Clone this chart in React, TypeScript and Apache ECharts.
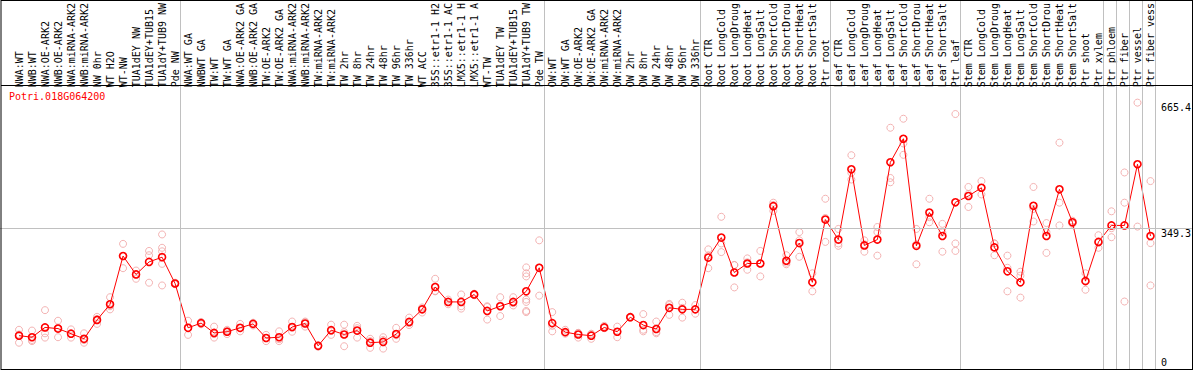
import React, { useEffect, useRef } from 'react';
import * as echarts from 'echarts';

const geneId = 'Potri.018G064200';

const categories = [
  'NWA:WT', 'NWB:WT', 'NWA:OE-ARK2', 'NWB:OE-ARK2', 'NWA:miRNA-ARK2', 'NWB:miRNA-ARK2', 'NW 0hr', 'WT H2O', 'WT-NW',
  'TUA1dEY NW', 'TUA1dEY+TUB15 NW', 'TUA1dY+TUB9 NW', 'Pde NW',
  'NWA:WT GA', 'NWBWT GA', 'TW:WT', 'TW:WT GA', 'NWA:OE-ARK2 GA', 'NWB:OE-ARK2 GA', 'TW:OE-ARK2', 'TW:OE-ARK2 GA',
  'NWA:miRNA-ARK2', 'NWB:miRNA-ARK2', 'TW:miRNA-ARK2', 'TW:miRNA-ARK2 GA', 'TW 2hr', 'TW 8hr', 'TW 24hr', 'TW 48hr',
  'TW 96hr', 'TW 336hr', 'WT ACC', '35S::etr1-1 H2O', '35S::etr1-1 ACC', 'LMX5::etr1-1 H2O', 'LMX5::etr1-1 ACC',
  'WT-TW', 'TUA1dEY TW', 'TUA1dEY+TUB15 TW', 'TUA1dY+TUB9 TW', 'Pde TW',
  'OW:WT', 'OW:WT GA', 'OW:OE-ARK2', 'OW:OE-ARK2 GA', 'OW:miRNA-ARK2', 'OW:miRNA-ARK2 GA', 'OW 2hr', 'OW 8hr',
  'OW 24hr', 'OW 48hr', 'OW 96hr', 'OW 336hr',
  'Root CTR', 'Root LongCold', 'Root LongDrought', 'Root LongHeat', 'Root LongSalt', 'Root ShortCold',
  'Root ShortDrought', 'Root ShortHeat', 'Root ShortSalt', 'Ptr root',
  'Leaf CTR', 'Leaf LongCold', 'Leaf LongDrought', 'Leaf LongHeat', 'Leaf LongSalt', 'Leaf ShortCold',
  'Leaf ShortDrought', 'Leaf ShortHeat', 'Leaf ShortSalt', 'Ptr leaf',
  'Stem CTR', 'Stem LongCold', 'Stem LongDrought', 'Stem LongHeat', 'Stem LongSalt', 'Stem ShortCold',
  'Stem ShortDrought', 'Stem ShortHeat', 'Stem ShortSalt', 'Ptr shoot', 'Ptr xylem',
  'Ptr phloem', 'Ptr fiber', 'Ptr vessel', 'Ptr fiber vessel',
];

const meanValues = [
  81, 77, 102, 99, 86, 73, 121, 161, 284, 237, 269, 281, 214,
  101, 113, 88, 91, 101, 111, 75, 77, 103, 112, 55, 95, 84, 94, 63, 65, 85, 116, 148, 205, 167, 167, 186, 144,
  156, 167, 194, 254,
  113, 90, 84, 81, 102, 91, 128, 108, 98, 152, 148, 148,
  280, 331, 242, 265, 265, 411, 272, 317, 217, 377,
  326, 505, 311, 326, 523, 583, 310, 395, 335, 421,
  437, 458, 306, 245, 217, 412, 335, 454, 370, 220, 320,
  362, 362, 518, 335,
];

const replicateValues = [
  [96, 84, 63], [94, 70, 67], [146, 87, 76], [119, 101, 77], [97, 85, 76], [87, 70, 63], [129, 123, 111],
  [179, 156, 148], [315, 284, 253], [247, 238, 226], [297, 286, 216], [339, 305, 296, 264, 209], [216, 214, 212],
  [119, 100, 83], [116, 113, 110], [104, 85, 76], [96, 93, 85], [111, 100, 92], [114, 111, 107], [83, 75, 67],
  [92, 72, 67], [117, 101, 91], [117, 115, 104], [57, 55, 53], [109, 93, 83], [109, 90, 54], [106, 100, 76],
  [73, 67, 50], [77, 70, 48], [101, 82, 73], [127, 113, 108], [153, 150, 140], [226, 195, 194], [173, 167, 161],
  [186, 156, 150], [188, 186, 184], [156, 154, 122], [179, 158, 131], [179, 164, 158],
  [255, 240, 232, 173, 167, 144, 141], [324, 255, 183],
  [141, 106, 92], [96, 89, 86], [88, 88, 76], [86, 84, 73], [106, 102, 100], [104, 91, 77], [129, 128, 127],
  [136, 96, 92], [117, 90, 87], [162, 159, 134], [165, 152, 127], [159, 148, 137],
  [301, 286, 253], [384, 316, 294], [261, 261, 204], [278, 268, 249], [297, 265, 232], [420, 414, 399],
  [286, 267, 263], [345, 324, 282], [240, 217, 194], [430, 381, 320],
  [353, 316, 310], [541, 496, 479], [324, 314, 295], [358, 345, 285], [611, 483, 472], [634, 571, 542],
  [353, 314, 263], [430, 383, 370], [366, 344, 295], [646, 316, 297],
  [460, 442, 409], [475, 458, 441], [316, 316, 286], [285, 254, 194], [244, 234, 178], [460, 404, 372],
  [368, 345, 292], [573, 420, 362], [374, 370, 366], [240, 222, 198], [337, 318, 305],
  [398, 355, 332], [497, 420, 168], [675, 359], [475, 317, 209],
];

const groupBoundaries = [0, 13, 41, 53, 63, 73, 84, 85, 86, 87, 88];
const referenceLineValue = 349.3;
const yTicksBelowLine = [349.3, 665.4];
const yTicksAboveLine = [0];

const FONT = 'DejaVu Sans Mono';

export default function App() {
  const ref = useRef<HTMLDivElement>(null);

  useEffect(() => {
    if (!ref.current) return;
    const chart = echarts.init(ref.current, null, { renderer: 'svg' });
    // value 0 sits at y = 367.4 px, 0.3983 px per unit
    const yMin = -4.0;
    const yMaxPlot = 706.5; // plot grid (top 86)
    const yMaxFull = 922.4; // full-height grids (top 0)

    const repData: number[][] = [];
    replicateValues.forEach((reps, i) => reps.forEach((v) => repData.push([i, v])));

    const yLabelAxis = (values: number[], vAlign: string) => ({
      type: 'value',
      gridIndex: 1,
      min: yMin,
      max: yMaxFull,
      position: 'right',
      axisLine: { show: false },
      axisTick: { show: false },
      splitLine: { show: false },
      axisLabel: {
        inside: true,
        align: 'left',
        verticalAlign: vAlign,
        margin: 31,
        customValues: values,
        fontFamily: FONT,
        fontSize: 10,
        lineHeight: 10,
        color: '#000',
        formatter: (v: number) => String(v),
      },
    });

    const frameLine = (x1: number, y1: number, x2: number, y2: number) => ({
      type: 'line',
      z: 100,
      silent: true,
      shape: { x1, y1, x2, y2 },
      style: { stroke: '#000', lineWidth: 1 },
    });

    chart.setOption({
      animation: false,
      backgroundColor: '#ffffff',
      title: {
        text: geneId,
        left: 9,
        top: 91,
        padding: 0,
        textStyle: { color: '#ff0000', fontSize: 10, fontFamily: FONT, fontWeight: 'normal' },
      },
      grid: [
        { left: 12.5, width: 1144.5, top: 86, height: 283 },
        { left: 0, width: 1194, top: 0, height: 369 },
        { left: 12.5, width: 1144.5, top: 0, height: 369 },
      ],
      xAxis: [
        {
          type: 'category',
          gridIndex: 0,
          data: categories,
          position: 'top',
          boundaryGap: true,
          axisLine: { show: false },
          axisTick: { show: false },
          splitLine: { show: false },
          axisLabel: {
            interval: 0,
            rotate: 90,
            align: 'left',
            verticalAlign: 'middle',
            margin: 3,
            fontFamily: FONT,
            fontSize: 10,
            color: '#000',
            hideOverlap: false,
            formatter: (s: string) => s.slice(0, 14),
          },
        },
        { type: 'value', gridIndex: 1, min: 0, max: 1, show: false },
        { type: 'value', gridIndex: 2, min: 0.138, max: 88.138, show: false },
      ],
      yAxis: [
        { type: 'value', gridIndex: 0, min: yMin, max: yMaxPlot, show: false },
        yLabelAxis(yTicksBelowLine, 'top'),
        yLabelAxis(yTicksAboveLine, 'bottom'),
        { type: 'value', gridIndex: 2, min: yMin, max: yMaxFull, show: false },
      ],
      series: [
        {
          type: 'line',
          xAxisIndex: 1,
          yAxisIndex: 1,
          data: [],
          silent: true,
          markLine: {
            silent: true,
            symbol: ['none', 'none'],
            label: { show: false },
            lineStyle: { color: '#c0c0c0', width: 1, type: 'solid' },
            data: [{ yAxis: referenceLineValue }],
          },
        },
        {
          type: 'line',
          xAxisIndex: 2,
          yAxisIndex: 3,
          data: [],
          silent: true,
          markLine: {
            silent: true,
            symbol: ['none', 'none'],
            label: { show: false },
            lineStyle: { color: '#c0c0c0', width: 1, type: 'solid' },
            data: groupBoundaries.map((b) => ({ xAxis: b })),
          },
        },
        {
          type: 'scatter',
          xAxisIndex: 0,
          yAxisIndex: 0,
          data: repData,
          symbol: 'circle',
          symbolSize: 7,
          silent: true,
          itemStyle: { color: 'rgba(255,255,255,0)', borderColor: '#f0a0a0', borderWidth: 1 },
        },
        {
          type: 'line',
          xAxisIndex: 0,
          yAxisIndex: 0,
          data: meanValues,
          symbol: 'circle',
          symbolSize: 7,
          showAllSymbol: true,
          silent: true,
          lineStyle: { color: '#ff0000', width: 1 },
          itemStyle: { color: 'rgba(255,255,255,0)', borderColor: '#ff0000', borderWidth: 1.6 },
        },
      ],
      graphic: [
        frameLine(1, 0.5, 1193, 0.5),
        frameLine(1, 0, 1, 370),
        frameLine(1192.5, 0, 1192.5, 370),
        frameLine(1, 369.5, 1193, 369.5),
        frameLine(1, 85.5, 1193, 85.5),
      ],
    });

    return () => chart.dispose();
  }, []);

  return (
    <div
      ref={ref}
      style={{ position: 'fixed', left: 0, top: 0, width: 1194, height: 370, background: '#fff' }}
    />
  );
}
